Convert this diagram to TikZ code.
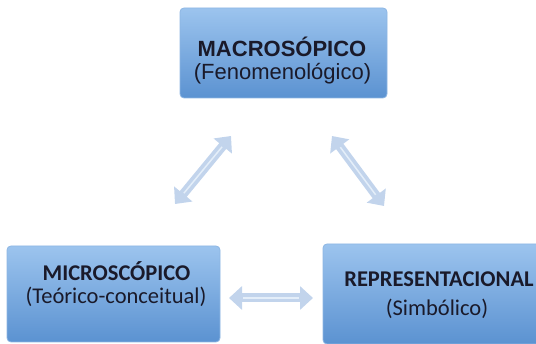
\documentclass[tikz,border=0pt]{standalone}
\usepackage{fontspec}
\newfontfamily\arialf{Liberation Sans}
\newfontfamily\calibf{Carlito}
\usetikzlibrary{arrows.meta}
\definecolor{boxtop}{HTML}{9CC4EE}
\definecolor{boxmid}{HTML}{6FA4DD}
\definecolor{boxbot}{HTML}{5B92D1}
\definecolor{boxedge}{HTML}{8DB6E3}
\definecolor{arrowfill}{HTML}{C2D4EC}
\definecolor{arrowhi}{HTML}{E4EEF9}
\definecolor{txt}{HTML}{1A1A2A}
\begin{document}
\begin{tikzpicture}[x=1pt,y=-1pt,
  boxnode/.style={rectangle, rounded corners=4pt, top color=boxtop, middle color=boxmid, bottom color=boxbot, draw=boxedge, line width=0.8pt, inner sep=0pt},
  dblarrow/.style={draw=arrowfill, line width=9pt, {Triangle[width=23pt,length=13pt]}-{Triangle[width=23pt,length=13pt]}},
  hiline/.style={draw=arrowhi, line width=1.5pt, shorten <=14pt, shorten >=14pt},
  txtA/.style={font=\arialf\fontsize{22}{25}\selectfont, text=txt, inner sep=0pt, anchor=base},
  txtC/.style={font=\calibf\fontsize{22.5}{25}\selectfont, text=txt, inner sep=0pt, anchor=base}]
\useasboundingbox (0,0) rectangle (536,344);
% boxes
\node[boxnode, minimum width=207pt, minimum height=90pt] (mac) at (283.5,53) {};
\node[boxnode, minimum width=213pt, minimum height=96pt] (mic) at (113.5,294) {};
\node[boxnode, minimum width=226pt, minimum height=100pt] (rep) at (436,294) {};
% texts
\node[txtA] (mactxt1) at (282,57) {\textbf{MACROSÓPICO}};
\node[txtA] (mactxt2) at (282.5,80) {(Fenomenológico)};
\node[txtC] (mictxt1) at (116.5,281) {\textbf{MICROSCÓPICO}};
\node[txtC] (mictxt2) at (116,304) {(Teórico-conceitual)};
\node[txtC] (reptxt1) at (439,287) {\textbf{REPRESENTACIONAL}};
\node[txtC] (reptxt2) at (437,316) {(Simbólico)};
% arrow end points
\coordinate (l1) at (175,204);
\coordinate (l2) at (231,136);
\coordinate (r1) at (332,136);
\coordinate (r2) at (384,206);
\coordinate (h1) at (229,298);
\coordinate (h2) at (313,298);
% arrows
\draw[dblarrow] (l1) -- (l2);
\draw[dblarrow] (r1) -- (r2);
\draw[dblarrow] (h1) -- (h2);
\draw[hiline] (l1) -- (l2);
\draw[hiline] (r1) -- (r2);
\draw[hiline] (h1) -- (h2);
\end{tikzpicture}
\end{document}
